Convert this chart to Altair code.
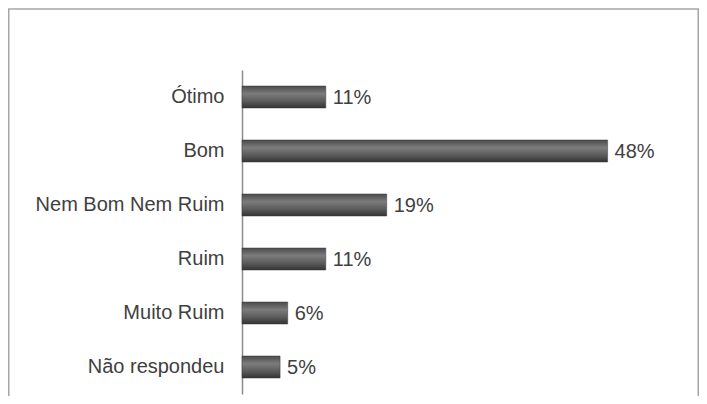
import altair as alt
import pandas as pd

categories = ["Ótimo", "Bom", "Nem Bom Nem Ruim", "Ruim", "Muito Ruim", "Não respondeu"]
values = [11, 48, 19, 11, 6, 5]
labels = ["11%", "48%", "19%", "11%", "6%", "5%"]

df = pd.DataFrame({"cat": categories, "val": values, "lab": labels})

bar_fill = alt.Gradient(
    gradient="linear",
    stops=[
        alt.GradientStop(color="#4a4a4a", offset=0),
        alt.GradientStop(color="#7c7c7c", offset=0.35),
        alt.GradientStop(color="#5a5a5a", offset=0.7),
        alt.GradientStop(color="#333333", offset=1),
    ],
    x1=0, x2=0, y1=0, y2=1,
)

y_enc = alt.Y(
    "cat:N",
    sort=None,
    scale=alt.Scale(paddingInner=0, paddingOuter=0),
    axis=alt.Axis(
        title=None,
        ticks=False,
        domainColor="#8c8c8c",
        domainWidth=1.5,
        labelFont="Liberation Sans",
        labelFontSize=20,
        labelColor="#404040",
        labelPadding=18,
        labelLimit=400,
    ),
)
x_enc = alt.X("val:Q", scale=alt.Scale(domain=[0, 60]), axis=None)

bars = alt.Chart(df).mark_bar(size=22, fill=bar_fill, stroke="#3a3a3a", strokeWidth=0.5).encode(
    y=y_enc, x=x_enc
)

text = alt.Chart(df).mark_text(
    align="left", baseline="middle", dx=7, dy=1,
    font="Liberation Sans", fontSize=20, color="#404040"
).encode(y=alt.Y("cat:N", sort=None), x="val:Q", text="lab:N")

frame = alt.Chart(alt.Data(values=[{}])).mark_rect(
    fill=None, stroke="#a6a6a6", strokeWidth=1.5
).encode(
    x=alt.value(-233.25), x2=alt.value(456.25), y=alt.value(-61), y2=alt.value(360)
)

chart = alt.layer(frame, bars, text).properties(
    width=457,
    height=324,
    padding={"left": 234, "top": 62, "right": 0, "bottom": 2},
    autosize=alt.AutoSizeParams(type="none"),
    background="white",
).configure_view(stroke=None)

chart.save("out.html", embed_options={"renderer": "svg", "actions": False})
